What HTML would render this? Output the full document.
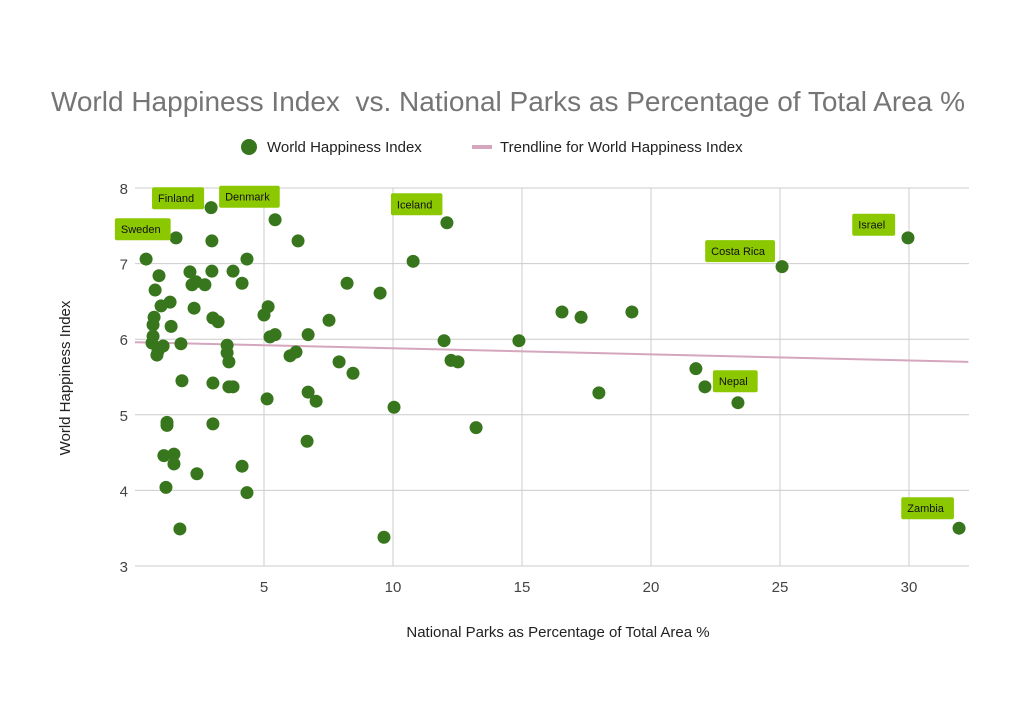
<!DOCTYPE html>
<html><head><meta charset="utf-8"><style>
body{margin:0;background:#fff;}
svg{display:block;font-family:"Liberation Sans",sans-serif;}
</style></head><body>
<svg id="chart" width="1024" height="724">
<text x="508" y="111" text-anchor="middle" font-size="28" fill="#757575">World Happiness Index&#160; vs. National Parks as Percentage of Total Area %</text>
<g>
<circle cx="249" cy="147" r="8" fill="#38761d"/>
<text x="267" y="152" font-size="15" fill="#222">World Happiness Index</text>
<rect x="472" y="145" width="20" height="4" fill="#d5a6bd"/>
<text x="500" y="152" font-size="15" fill="#222">Trendline for World Happiness Index</text>
</g>
<g id="grid"></g><g id="ticks"></g><g id="trend"></g><g id="pts"></g><g id="labels"></g>
<text x="558" y="637" text-anchor="middle" font-size="15" fill="#222">National Parks as Percentage of Total Area %</text>
<text transform="translate(70,378) rotate(-90)" text-anchor="middle" font-size="15" fill="#222">World Happiness Index</text>
</svg>
<script>
const xTicks=[5,10,15,20,25,30];
const yTicks=[3,4,5,6,7,8];
const parkPct=[0.43,0.78,0.93,0.74,1.01,1.36,0.70,0.70,0.66,0.89,0.85,1.09,1.59,1.78,1.40,1.82,2.13,2.21,2.36,2.71,2.95,2.98,2.98,3.02,3.22,2.29,3.57,3.57,3.64,3.80,4.15,4.34,5.43,6.32,5.16,5.00,5.23,5.43,6.71,7.52,8.22,6.01,6.24,7.91,3.64,3.02,3.80,5.12,6.71,7.02,8.45,1.12,1.51,1.51,1.20,1.24,1.24,2.40,4.15,4.34,3.02,6.67,1.74,9.65,10.04,10.78,12.09,11.98,12.25,12.52,13.22,14.88,16.55,17.29,17.98,19.26,21.74,22.09,23.37,25.08,29.96,31.94,9.50];
const happiness=[7.06,6.65,6.84,6.29,6.44,6.49,6.19,6.04,5.95,5.84,5.79,5.91,7.34,5.94,6.17,5.45,6.89,6.72,6.76,6.72,7.74,7.30,6.90,6.28,6.23,6.41,5.92,5.82,5.70,6.90,6.74,7.06,7.58,7.30,6.43,6.32,6.03,6.06,6.06,6.25,6.74,5.78,5.83,5.70,5.37,5.42,5.37,5.21,5.30,5.18,5.55,4.46,4.48,4.35,4.04,4.90,4.86,4.22,4.32,3.97,4.88,4.65,3.49,3.38,5.10,7.03,7.54,5.98,5.72,5.70,4.83,5.98,6.36,6.29,5.29,6.36,5.61,5.37,5.16,6.96,7.34,3.50,6.61];
const trendStart=[0,5.96];
const trendEnd=[32.3,5.70];
const labelNames=["Finland","Denmark","Sweden","Iceland","Israel","Costa Rica","Nepal","Zambia"];
const labelX=[0.66,3.26,-0.78,9.92,27.8,22.1,22.4,29.7];
const labelY=[8.01,8.03,7.60,7.93,7.66,7.31,5.59,3.91];
const NS="http://www.w3.org/2000/svg";
const X=v=>135+v*25.8, Y=v=>188+(8-v)*75.6;
function mk(t,a,p){const e=document.createElementNS(NS,t);for(const k in a)e.setAttribute(k,a[k]);document.getElementById(p).appendChild(e);return e;}
yTicks.forEach(t=>{
 const l=mk('line',{x1:X(0),x2:969,y1:Y(t),y2:Y(t),stroke:'#ccc','stroke-width':1},'grid');
 
 
 const s=mk('text',{x:128,y:Y(t)+6,'text-anchor':'end','font-size':15,fill:'#444'},'ticks');s.textContent=t;
 
 
});
xTicks.forEach(t=>{
 const l=mk('line',{x1:X(t),x2:X(t),y1:Y(8),y2:Y(3),stroke:'#ccc','stroke-width':1},'grid');
 
 
 const s=mk('text',{x:X(t),y:592,'text-anchor':'middle','font-size':15,fill:'#444'},'ticks');s.textContent=t;
 
 
});
const tl=mk('line',{x1:X(trendStart[0]),y1:Y(trendStart[1]),x2:X(trendEnd[0]),y2:Y(trendEnd[1]),stroke:'#d5a6bd','stroke-width':2},'trend');


parkPct.forEach((v,i)=>{
 const c=mk('circle',{cx:X(v),cy:Y(happiness[i]),r:6.5,fill:'#38761d'},'pts');
 
 
});
labelNames.forEach((n,i)=>{
 const t=mk('text',{x:X(labelX[i])+6,y:Y(labelY[i])+15,'font-size':11,fill:'#111'},'labels');t.textContent=n;
 
 
 const w=t.getComputedTextLength()+16;
 const r=mk('rect',{x:X(labelX[i]),y:Y(labelY[i]),width:w,height:22,rx:2,fill:'#8bc800'},'labels');
 
 
 t.parentNode.appendChild(t);
});
</script>
</body></html>
